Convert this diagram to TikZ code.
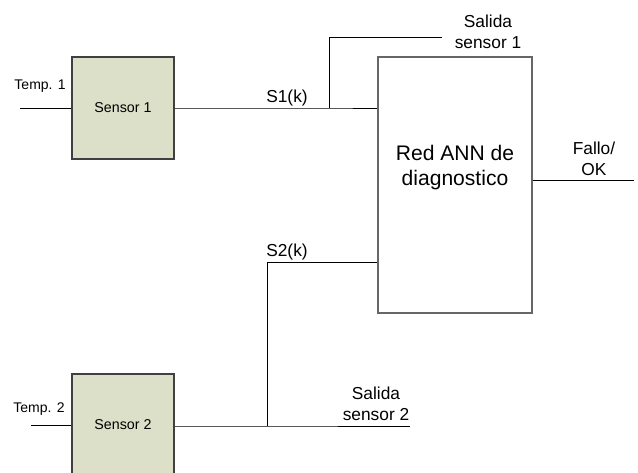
\documentclass[tikz,border=0pt]{standalone}
\usepackage{fontspec}
\setmainfont{Liberation Sans}
\begin{document}
\begin{tikzpicture}[x=0.75pt,y=-0.75pt,
  sensorbox/.style={draw=black!75,line width=0.9pt,fill={rgb,255:red,221;green,224;blue,200},
    minimum width=76.5pt,minimum height=76.5pt,inner sep=0pt,font=\fontsize{10.7}{12}\selectfont},
  annbox/.style={draw=black!60,line width=0.9pt,minimum width=115.5pt,minimum height=192pt,inner sep=0pt},
  wire/.style={draw=black,line width=0.7pt},
  smalllbl/.style={font=\fontsize{10.5}{12}\selectfont,inner sep=0pt},
  lbl/.style={font=\fontsize{13}{15.75}\selectfont,align=center,inner sep=0pt},
  biglbl/.style={font=\fontsize{15.8}{18.75}\selectfont,align=center,inner sep=0pt}]
\useasboundingbox (0,0) rectangle (638,473);
\clip (0,0) rectangle (638,473);
% nodes
\node[sensorbox] (s1) at (123,108) {Sensor 1};
\node[sensorbox] (s2) at (123,425) {Sensor 2};
\node[annbox] (ann) at (455,185) {};
\node[biglbl] (annlbl) at (455,168) {Red ANN de\\diagnostico};
\node[smalllbl] (t1) at (40,86) {Temp. 1};
\node[smalllbl] (t2) at (39,409) {Temp. 2};
\node[lbl] (sk1) at (287,98) {S1(k)};
\node[lbl] (sk2) at (287,252) {S2(k)};
\node[lbl] (sal1) at (488,32) {Salida\\sensor 1};
\node[lbl] (sal2) at (376,404) {Salida\\sensor 2};
\node[lbl] (fallo) at (594,159) {Fallo/\\OK};
% coordinates
\coordinate (in1) at (20,108);
\coordinate (in2) at (31,425);
\coordinate (j1) at (329,108);
\coordinate (o1) at (442,37);
\coordinate (j2) at (267,426);
\coordinate (o2) at (410,426);
\coordinate (a2) at (ann.west |- 0,262);
\coordinate (fo) at (634,180);
% connectors
\draw[wire] (in1) -- (s1.west);
\draw[wire] (in2) -- (s2.west);
\draw[wire] (s1.east) -- (j1) -- (j1 -| ann.west);
\draw[wire] (j1) |- (o1);
\draw[wire] (s2.east |- j2) -- (j2) -- (o2);
\draw[wire] (j2) |- (a2);
\draw[wire] (ann.east |- fo) -- (fo);
\end{tikzpicture}
\end{document}
